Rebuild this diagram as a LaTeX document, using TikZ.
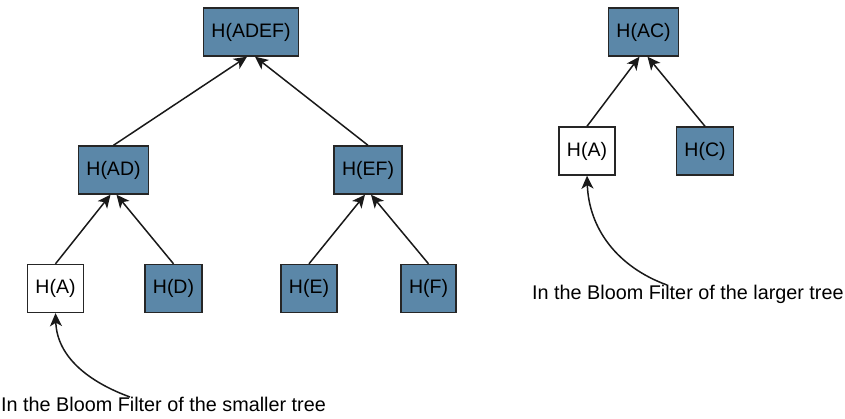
\documentclass[tikz,border=0pt]{standalone}
\usepackage{fontspec}
\setmainfont{Liberation Sans}
\usetikzlibrary{arrows.meta}

\definecolor{hashblue}{RGB}{91,135,168}

\begin{document}
\begin{tikzpicture}[
              x=1pt, y=-1pt,
              every node/.style={font=\fontsize{19.5}{23}\selectfont},
              hash/.style={draw=black!85, line width=1.4pt, fill=hashblue,
                           minimum width=49pt, minimum height=48pt, inner xsep=8pt},
              found/.style={hash, fill=white},
              note/.style={inner sep=0pt, anchor=north west, font=\fontsize{19.8}{24}\selectfont},
              link/.style={line width=1.5pt, draw=black!90,
                           -{Stealth[length=13pt,width=12pt,inset=3.5pt]}}
            ]
            \useasboundingbox (0,0) rectangle (845,419);

            % Smaller tree
            \node[hash] (adef) at (251,32) {H(ADEF)};
            \node[hash] (ad) at (113.5,170) {H(AD)};
            \node[hash] (ef) at (368,170) {H(EF)};
            \node[found] (a1) at (55.5,288.5) {H(A)};
            \node[hash] (d) at (173.5,288.5) {H(D)};
            \node[hash] (e) at (309,288.5) {H(E)};
            \node[hash] (f) at (428.5,288.5) {H(F)};

            \draw[link] (ad.north) -- ([xshift=-4pt]adef.south);
            \draw[link] (ef.north) -- ([xshift=4pt]adef.south);
            \draw[link] (a1.north) -- ([xshift=-3pt]ad.south);
            \draw[link] (d.north) -- ([xshift=3pt]ad.south);
            \draw[link] (e.north) -- ([xshift=-3pt]ef.south);
            \draw[link] (f.north) -- ([xshift=3pt]ef.south);

            % Larger tree
            \node[hash] (ac) at (643.5,32) {H(AC)};
            \node[found] (a2) at (587,151) {H(A)};
            \node[hash] (c) at (705,151) {H(C)};

            \draw[link] (a2.north) -- ([xshift=-4pt]ac.south);
            \draw[link] (c.north) -- ([xshift=4pt]ac.south);

            % Notes
            \node[note] (small) at (1,397) {In the Bloom Filter of the smaller tree};
            \node[note] (large) at (532,285) {In the Bloom Filter of the larger tree};

            \draw[link] ([xshift=129pt]small.north west) to[out=160,in=-88] (a1.south);
            \draw[link] ([xshift=135pt]large.north west) to[out=160,in=-88] (a2.south);
            \end{tikzpicture}
\end{document}
